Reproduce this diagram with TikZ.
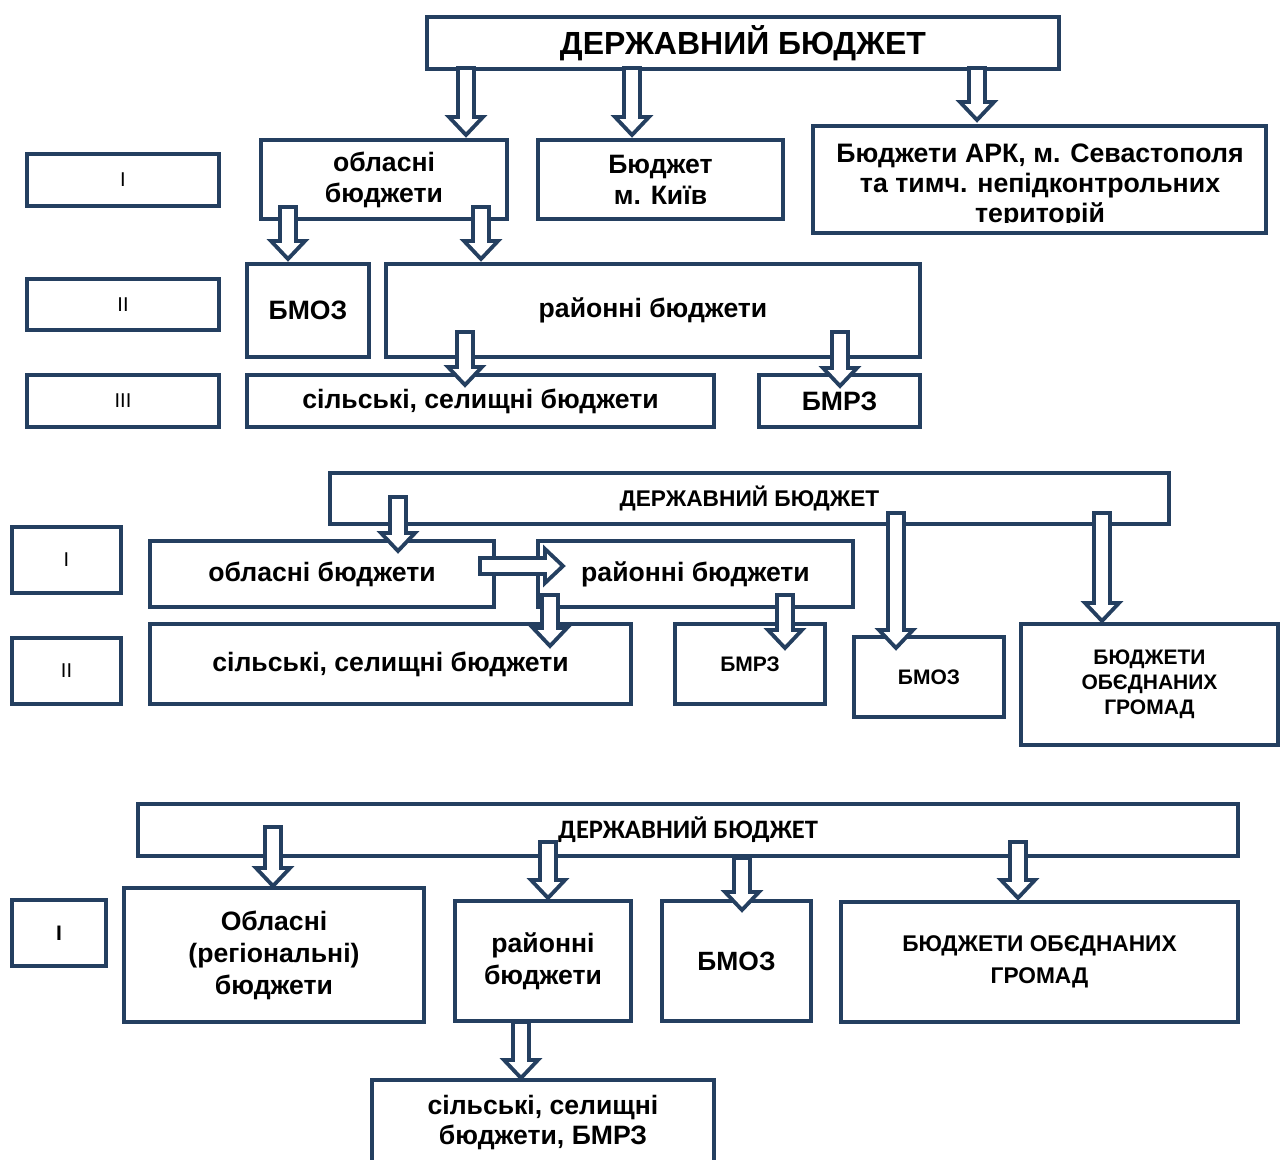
\documentclass[tikz,border=0pt]{standalone}
\usepackage{fontspec}
\setmainfont{Liberation Sans}
\newfontfamily\narrowfont{Carlito}
\definecolor{navy}{HTML}{243F60}
\newcommand\fsz[2]{\fontsize{#1}{#2}\selectfont}
% hollow block arrow pointing down: x, top of shaft, tip
\newcommand\darr[3]{\draw[barrow] ({#1-8},#2) -- ({#1+8},#2) -- ({#1+8},{#3-18}) -- ({#1+17},{#3-18}) -- (#1,#3) -- ({#1-17},{#3-18}) -- ({#1-8},{#3-18}) -- cycle;}
% hollow block arrow pointing right: y, start of shaft, tip
\newcommand\rarr[3]{\draw[barrow] (#2,{#1-8}) -- (#2,{#1+8}) -- ({#3-18},{#1+8}) -- ({#3-18},{#1+17}) -- (#3,#1) -- ({#3-18},{#1-17}) -- ({#3-18},{#1-8}) -- cycle;}
\begin{document}
\begin{tikzpicture}[x=1pt,y=-1pt,
  box/.style={draw=navy, line width=4pt, fill=white, inner sep=0pt, align=center, text=black},
  barrow/.style={draw=navy, line width=3.8pt, fill=white, line join=miter},
  big/.style={font=\fsz{26.6}{31}\bfseries},
  small/.style={font=\fsz{21}{25}\bfseries},
  lvl/.style={font=\fsz{20}{24}}]
\useasboundingbox (0,0) rectangle (1282,1159);
\fill[white] (0,0) rectangle (1282,1159);

% ---------- scheme 1 ----------
\node[box, minimum width=632, minimum height=52, font=\fsz{32}{36}\bfseries] (t1) at (743,43) {ДЕРЖАВНИЙ БЮДЖЕТ};
\node[box, lvl, minimum width=192, minimum height=52] (l1a) at (123,180) {I};
\node[box, lvl, minimum width=192, minimum height=51] (l1b) at (123,304.5) {II};
\node[box, lvl, minimum width=192, minimum height=52] (l1c) at (123,401) {III};
\node[box, big, minimum width=246, minimum height=79] (ob1) at (384,179.5) {\raisebox{-3pt}{\parbox{240pt}{\centering обласні\\бюджети}}};
\node[box, big, minimum width=245, minimum height=79] (ky1) at (660.5,179.5) {\raisebox{-3pt}{\parbox{240pt}{\centering Бюджет\\м. Київ}}};
\begin{scope}
  \clip (813,126) rectangle (1266,222);
  \node[align=center, anchor=north, inner sep=0pt, font=\fsz{26.7}{30}\bfseries] (arkt) at (1040,144) {Бюджети АРК, м. Севастополя\\та тимч. непідконтрольних\\територій};
\end{scope}
\node[box, fill=none, minimum width=453, minimum height=107] (ark) at (1039.5,179.5) {};
\node[box, big, minimum width=122, minimum height=93] (bmoz1) at (308,310.5) {БМОЗ};
\node[box, big, minimum width=534, minimum height=93] (ray1) at (653,310.5) {районні бюджети};
\node[box, big, minimum width=467, minimum height=52] (sil1) at (480.5,401) {сільські, селищні бюджети};
\node[box, big, minimum width=161, minimum height=52] (bmrz1) at (839.5,401) {БМРЗ};

\darr{466}{68}{135}
\darr{632}{68}{135}
\darr{977}{68}{120}
\darr{288}{207}{259}
\darr{481}{207}{259}
\darr{465}{332}{385}
\darr{840}{332}{386}

% ---------- scheme 2 ----------
\node[box, minimum width=839, minimum height=51, font=\fsz{22.7}{26}\bfseries] (t2) at (749.5,498.5) {ДЕРЖАВНИЙ БЮДЖЕТ};
\node[box, lvl, minimum width=109, minimum height=66] (l2a) at (66.5,560) {I};
\node[box, lvl, minimum width=109, minimum height=66] (l2b) at (66.5,671) {II};
\node[box, big, minimum width=344, minimum height=66] (ob2) at (322,574) {обласні бюджети};
\node[box, big, minimum width=315, minimum height=66] (ray2) at (695.5,574) {районні бюджети};
\node[box, big, minimum width=481, minimum height=80] (sil2) at (390.5,664) {сільські, селищні бюджети};
\node[box, small, minimum width=150, minimum height=80] (bmrz2) at (750,664) {БМРЗ};
\node[box, small, minimum width=150, minimum height=80] (bmoz2) at (929,677) {БМОЗ};
\node[box, small, minimum width=257, minimum height=121] (gr2) at (1149.5,684.5) {БЮДЖЕТИ\\ОБЄДНАНИХ\\ГРОМАД};

\darr{398}{497}{551}
\rarr{566}{480}{563}
\darr{550}{595}{646}
\darr{785}{595}{648}
\darr{896}{513}{648}
\darr{1102}{513}{621}

% ---------- scheme 3 ----------
\node[box, minimum width=1100, minimum height=52, font=\fsz{26.6}{30}\narrowfont\bfseries] (t3) at (688,830) {ДЕРЖАВНИЙ БЮДЖЕТ};
\node[box, minimum width=94, minimum height=66, font=\fsz{21}{24}\bfseries] (l3) at (59,933) {I};
\node[box, minimum width=300, minimum height=134, font=\fsz{26.6}{32}\bfseries] (ob3) at (274,955) {Обласні\\(регіональні)\\бюджети};
\node[box, minimum width=176, minimum height=120, font=\fsz{26.6}{32}\bfseries] (ray3) at (543,961) {районні\\бюджети};
\node[box, minimum width=149, minimum height=120, font=\fsz{26.4}{32}\bfseries] (bmoz3) at (736.5,961) {БМОЗ};
\node[box, minimum width=397, minimum height=120, font=\fsz{22.7}{32}\bfseries] (gr3) at (1039.5,962) {БЮДЖЕТИ ОБЄДНАНИХ\\ГРОМАД};
\node[box, minimum width=342, minimum height=84, font=\fsz{26.6}{30}\bfseries] (sil3) at (543,1122) {сільські, селищні\\бюджети, БМРЗ};

\darr{273}{827}{886}
\darr{548}{842}{898}
\darr{742}{858}{910}
\darr{1018}{842}{898}
\darr{521}{1022}{1078}
\end{tikzpicture}
\end{document}
